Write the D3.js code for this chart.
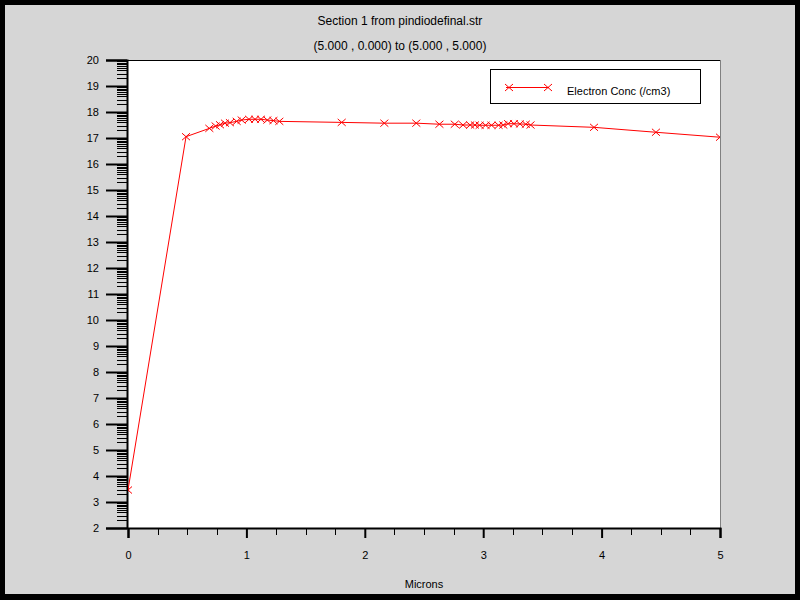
<!DOCTYPE html>
<html><head><meta charset="utf-8">
<script src="https://cdn.jsdelivr.net/npm/d3@7"></script>
<style>html,body{margin:0;padding:0;background:#000;}svg{display:block;}</style>
</head><body>
<svg id="c" width="800" height="600"></svg>
<script>
const titleLines = ["Section 1 from pindiodefinal.str", "(5.000 , 0.000) to (5.000 , 5.000)"];
const xLabel = "Microns";
const seriesName = "Electron Conc (/cm3)";
const xTicks = [0, 1, 2, 3, 4, 5];
const yTicks = [2,3,4,5,6,7,8,9,10,11,12,13,14,15,16,17,18,19,20];
const xs = [0, 0.49, 0.687, 0.74, 0.777, 0.819, 0.861, 0.918, 0.96, 1.022, 1.073, 1.123, 1.177, 1.228, 1.278,
  1.805, 2.165, 2.435, 2.63, 2.76, 2.83, 2.89, 2.93, 2.97, 3.02, 3.07, 3.13, 3.17, 3.21, 3.26, 3.31, 3.36, 3.40,
  3.936, 4.459, 5.0];
const ys = [3.46, 17.05, 17.37, 17.46, 17.51, 17.57, 17.59, 17.64, 17.69, 17.72, 17.72, 17.72, 17.69, 17.67, 17.64,
  17.60, 17.57, 17.57, 17.53, 17.53, 17.50, 17.50, 17.50, 17.49, 17.49, 17.49, 17.49, 17.50, 17.55, 17.55, 17.54, 17.53, 17.50,
  17.41, 17.22, 17.03];

const svg = d3.select("#c");
const font = "'Liberation Sans', Arial, sans-serif";
svg.append("rect").attr("x",5).attr("y",5).attr("width",790).attr("height",589).attr("fill","#d6d6d6");

const L = 128, R = 720, T = 60, B = 528;
const x = d3.scaleLinear().domain([0,5]).range([L,R]);
const y = d3.scaleLinear().domain([2,20]).range([B,T]);

svg.append("rect").attr("x",L).attr("y",T).attr("width",R-L).attr("height",B-T).attr("fill","#fff");
svg.append("line").attr("x1",R+0.5).attr("x2",R+0.5).attr("y1",T).attr("y2",B).attr("stroke","#808080");
svg.append("line").attr("x1",L).attr("x2",R).attr("y1",T+0.5).attr("y2",T+0.5).attr("stroke","#000").attr("stroke-width",1);

// titles
svg.selectAll("text.title").data(titleLines).join("text")
  .attr("x",400).attr("y",(d,i)=>25+i*25).attr("text-anchor","middle")
  .attr("font-family",font).attr("font-size",12).attr("fill","#000").text(d=>d);

// Y axis with log-style minor ticks
const yAxis = d3.axisLeft(y).tickValues(yTicks).tickSize(21).tickPadding(7).tickFormat(d3.format("d"));
const gy = svg.append("g").attr("transform",`translate(${L-1},0)`).call(yAxis);
gy.select(".domain").attr("stroke","#000").attr("stroke-width",2);
gy.selectAll(".tick line").attr("stroke","#000").attr("stroke-width",2);
gy.selectAll(".tick text").attr("font-family",font).attr("font-size",11).attr("fill","#000");
const minorY = [];
yTicks.slice(0,-1).forEach(v=>{ for(let k=2;k<=9;k++) minorY.push(v+Math.log10(k)); });
svg.append("g").selectAll("line").data(minorY).join("line")
  .attr("x1",117).attr("x2",L).attr("y1",d=>Math.round(y(d))+0.5).attr("y2",d=>Math.round(y(d))+0.5)
  .attr("stroke","#000").attr("stroke-width",1);

// X axis
const xAxis = d3.axisBottom(x).tickValues(xTicks).tickSize(10).tickPadding(13).tickFormat(d3.format("d"));
const gx = svg.append("g").attr("transform",`translate(0,${B})`).call(xAxis);
gx.select(".domain").attr("stroke","#000").attr("stroke-width",2);
gx.selectAll(".tick line").attr("stroke","#000").attr("stroke-width",2);
gx.selectAll(".tick text").attr("font-family",font).attr("font-size",11).attr("fill","#000");
const minorX = d3.range(0,5,0.25).filter(v=>v%1!==0);
svg.append("g").selectAll("line").data(minorX).join("line")
  .attr("x1",d=>Math.round(x(d))+0.5).attr("x2",d=>Math.round(x(d))+0.5).attr("y1",B).attr("y2",B+7)
  .attr("stroke","#000").attr("stroke-width",1);

svg.append("text").attr("x",424).attr("y",588).attr("text-anchor","middle")
  .attr("font-family",font).attr("font-size",11).attr("fill","#000").text(xLabel);

// data
svg.append("clipPath").attr("id","clip").append("rect").attr("x",L).attr("y",T).attr("width",R-L).attr("height",B-T);
const data = xs.map((v,i)=>[v,ys[i]]);
const pg = svg.append("g").attr("clip-path","url(#clip)");
pg.append("path").datum(data).attr("d",d3.line().x(d=>x(d[0])).y(d=>y(d[1])))
  .attr("fill","none").attr("stroke","#ff0000").attr("stroke-width",1);
const cross = (cx,cy)=>`M${cx-4},${cy-3.5}L${cx+4},${cy+3.5}M${cx-4},${cy+3.5}L${cx+4},${cy-3.5}`;
pg.selectAll("path.m").data(data).join("path").attr("class","m")
  .attr("d",d=>cross(x(d[0]),y(d[1]))).attr("stroke","#ff0000").attr("stroke-width",1).attr("fill","none");

// legend
const lg = svg.append("g");
lg.append("rect").attr("x",490.5).attr("y",69.5).attr("width",210).attr("height",34).attr("fill","#fff").attr("stroke","#000");
lg.append("line").attr("x1",506).attr("x2",549).attr("y1",87.5).attr("y2",87.5).attr("stroke","#ff0000");
lg.selectAll("path").data([509,548]).join("path").attr("d",d=>cross(d,87.5)).attr("stroke","#ff0000").attr("fill","none");
lg.append("text").attr("x",567).attr("y",94.5).attr("font-family",font).attr("font-size",11).attr("fill","#000").text(seriesName);
</script>
</body></html>
